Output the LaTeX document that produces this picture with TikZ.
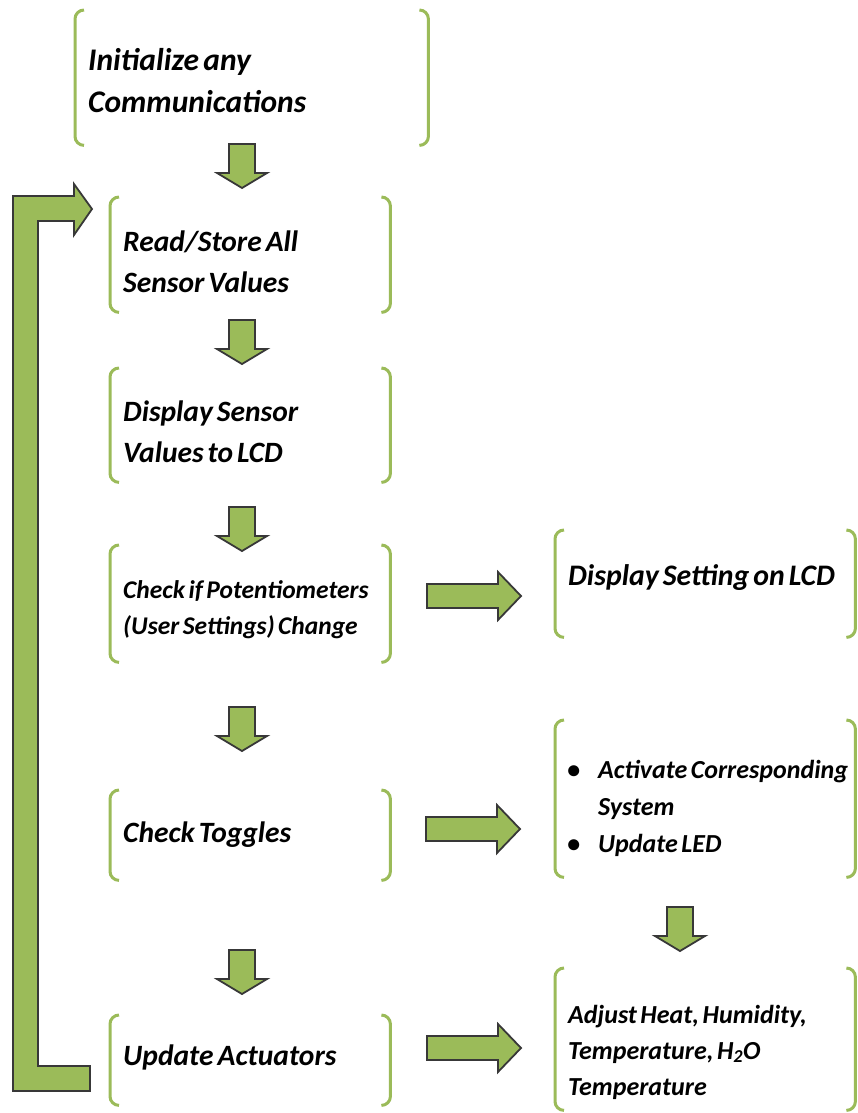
\documentclass[tikz,border=0pt]{standalone}
\usepackage{fontspec}
\setmainfont{Carlito}[WordSpace=0.6]
\usetikzlibrary{calc}
\definecolor{og}{HTML}{9BBB59}
\definecolor{ol}{HTML}{383838}
\tikzset{
 box/.style={draw=none, inner sep=0pt, anchor=north west},
 txt/.style={anchor=west, align=left, inner sep=0pt, font=\bfseries\itshape\fontsize{29.5}{41}\selectfont},
 brk/.style={draw=og, line width=3pt, rounded corners=9pt},
 blk/.style={fill=og, draw=ol, line width=1.8pt, line join=miter},
 pics/darrow/.style={code={\path[blk] (-13,0) -- (13,0) -- (13,29) -- (25,29) -- (0,44) -- (-25,29) -- (-13,29) -- cycle;}},
 pics/rarrow/.style={code={\path[blk] (0,-12) -- (71,-12) -- (71,-24) -- (94,0) -- (71,24) -- (71,12) -- (0,12) -- cycle;}},
}
\newcommand\frameit[1]{%
 \draw[brk] ([xshift=9pt]#1.north west) -- (#1.north west) -- (#1.south west) -- ([xshift=9pt]#1.south west);
 \draw[brk] ([xshift=-9pt]#1.north east) -- (#1.north east) -- (#1.south east) -- ([xshift=-9pt]#1.south east);}
\begin{document}
\begin{tikzpicture}[x=1pt,y=-1pt]
\useasboundingbox (0,0) rectangle (858,1113);
% boxes
\node[box, minimum width=353pt, minimum height=135pt] (init) at (75,10) {};
\node[box, minimum width=280pt, minimum height=115pt] (read) at (110,197) {};
\node[box, minimum width=280pt, minimum height=114pt] (disp) at (110,368) {};
\node[box, minimum width=280pt, minimum height=117pt] (check) at (110,545) {};
\node[box, minimum width=280pt, minimum height=90pt] (tog) at (110,790) {};
\node[box, minimum width=280pt, minimum height=90pt] (upd) at (110,1015) {};
\node[box, minimum width=300pt, minimum height=107pt] (lcd) at (555,530) {};
\node[box, minimum width=300pt, minimum height=157pt] (act) at (555,720) {};
\node[box, minimum width=300pt, minimum height=142pt] (adj) at (555,968) {};
\foreach \n in {init,read,disp,check,tog,upd,lcd,act,adj} {\frameit{\n}}
% texts
\node[txt, font=\bfseries\itshape\fontsize{31.5}{42}\selectfont] (initT) at (88,81) {Initialize any\\Communications};
\node[txt] (readT) at (123,262) {Read/Store All\\Sensor Values};
\node[txt] (dispT) at (123,432) {Display Sensor\\Values to LCD};
\node[txt, font=\bfseries\itshape\fontsize{25.5}{36}\selectfont] (checkT) at (123,610) {Check if Potentiometers\\(User Settings) Change};
\node[txt] (togT) at (123,835) {Check Toggles};
\node[txt] (updT) at (123,1057) {Update Actuators};
\node[txt, font=\bfseries\itshape\fontsize{29.8}{41}\selectfont] (lcdT) at (568,578) {Display Setting on LCD};
\node[txt, font=\bfseries\itshape\fontsize{26}{37}\selectfont] (actT) at (567,808)
 {\makebox[31pt][l]{\textbullet}Activate Corresponding\\\hspace*{31pt}System\\\makebox[31pt][l]{\textbullet}Update LED};
\node[txt, font=\bfseries\itshape\fontsize{26}{36}\selectfont] (adjT) at (568,1052)
 {Adjust Heat, Humidity,\\Temperature, H\textsubscript{2}O\\Temperature};
% down arrows
\pic at (242,144) {darrow};
\pic at (242,320) {darrow};
\pic at (242,507) {darrow};
\pic at (242,707) {darrow};
\pic at (242,950) {darrow};
\pic at (680,907) {darrow};
% right arrows
\pic at (427,596) {rarrow};
\pic at (426,829) {rarrow};
\pic at (427,1048) {rarrow};
% loop arrow
\path[blk] (13,196) -- (74,196) -- (74,184) -- (92,209) -- (74,235) -- (74,221)
 -- (38,221) -- (38,1066) -- (90,1066) -- (90,1091) -- (13,1091) -- cycle;
\end{tikzpicture}
\end{document}
